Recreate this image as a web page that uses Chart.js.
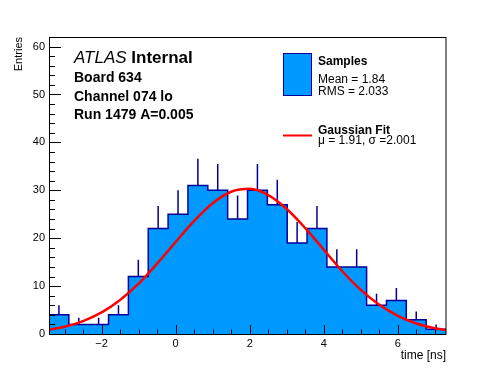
<!DOCTYPE html>
<html>
<head>
<meta charset="utf-8">
<script src="https://cdn.jsdelivr.net/npm/chart.js@4.4.1/dist/chart.umd.min.js"></script>
<style>
  html, body { margin: 0; padding: 0; background: #fff; }
  canvas { display: block; }
</style>
</head>
<body>
<canvas id="chart" width="496" height="372"></canvas>
<script>
// histogram bins (time in ns), 20 bins
const binEdges = [-3.42, -2.884, -2.348, -1.812, -1.276, -0.74, -0.204, 0.332, 0.868, 1.404, 1.94,
  2.476, 3.012, 3.548, 4.084, 4.62, 5.156, 5.692, 6.228, 6.764, 7.3];
const binCounts = [4, 2, 2, 4, 12, 22, 25, 31, 30, 24, 30, 27, 19, 22, 14, 14, 6, 7, 3, 1];
const binErrors = [2, 1.4, 1.4, 2, 3.5, 4.7, 5, 5.6, 5.5, 4.9, 5.5, 5.2, 4.4, 4.7, 3.7, 3.7, 2.4, 2.6, 1.7, 1];

// gaussian fit curve
const curveX = [-3.42, -3, -2.5, -2, -1.5, -1, -0.5, 0, 0.5, 1, 1.5, 2, 2.5, 3, 3.5, 4, 4.5, 5, 5.5, 6, 6.5, 7, 7.3];
const curveY = [0.9, 1.5, 2.7, 4.5, 7.1, 10.5, 14.7, 19.2, 23.6, 27.3, 29.7, 30.3, 29.0, 26.1, 22.1, 17.6, 13.1, 9.2, 6.1, 3.8, 2.2, 1.2, 0.8];

const yTicks = [0, 10, 20, 30, 40, 50, 60];
const xTicks = [-2, 0, 2, 4, 6];

const histColor = '#0099ff';
const lineColor = '#000099';
const fontFamily = '"Liberation Sans", Arial, Helvetica, sans-serif';

// step outline: left edge of every bin, then the last right edge
const histPoints = binCounts.map((c, i) => ({ x: binEdges[i], y: c }));
histPoints.push({ x: binEdges[binEdges.length - 1], y: binCounts[binCounts.length - 1] });

// error bars only above the bin top (the fill hides the rest)
const errorPoints = [];
binCounts.forEach((c, i) => {
  const xc = (binEdges[i] + binEdges[i + 1]) / 2;
  errorPoints.push({ x: xc, y: c }, { x: xc, y: c + binErrors[i] }, { x: xc, y: null });
});

const curvePoints = curveX.map((x, i) => ({ x, y: curveY[i] }));

const rootFrame = {
  id: 'rootFrame',
  afterDatasetsDraw(chart) {
    const { ctx, chartArea: a, scales: { x, y } } = chart;
    ctx.save();
    ctx.strokeStyle = '#000';
    ctx.lineWidth = 1;
    ctx.beginPath();
    // y ticks, inward
    for (let v = 0; v <= 62; v += 2) {
      const py = Math.round(y.getPixelForValue(v)) + 0.5;
      const len = v % 10 === 0 ? 12 : 6;
      ctx.moveTo(a.left, py);
      ctx.lineTo(a.left + len, py);
    }
    // x ticks, inward
    for (let v = -3; v <= 7.3; v += 0.5) {
      const px = Math.round(x.getPixelForValue(v)) + 0.5;
      const len = v % 2 === 0 ? 9 : 4.5;
      ctx.moveTo(px, a.bottom);
      ctx.lineTo(px, a.bottom - len);
    }
    ctx.stroke();
    ctx.strokeRect(a.left + 0.5, a.top + 0.5, a.right - a.left - 0.5, a.bottom - a.top);
    ctx.restore();
  },
  afterDraw(chart) {
    const ctx = chart.ctx;
    ctx.save();
    ctx.fillStyle = '#000';
    ctx.textBaseline = 'alphabetic';
    ctx.textAlign = 'left';

    ctx.font = 'italic 17px ' + fontFamily;
    ctx.fillText('ATLAS', 74, 63);
    const w = ctx.measureText('ATLAS ').width;
    ctx.font = 'bold 17px ' + fontFamily;
    ctx.fillText('Internal', 74 + w, 63);

    ctx.font = 'bold 14px ' + fontFamily;
    ctx.fillText('Board 634', 74, 82);
    ctx.fillText('Channel 074 lo', 74, 100.5);
    ctx.fillText('Run 1479 A=0.005', 74, 119);

    // legend
    ctx.fillStyle = histColor;
    ctx.fillRect(283.5, 53.5, 28, 42);
    ctx.strokeStyle = lineColor;
    ctx.lineWidth = 1;
    ctx.strokeRect(283.5, 53.5, 28, 42);

    ctx.strokeStyle = '#ff0000';
    ctx.lineWidth = 2;
    ctx.beginPath();
    ctx.moveTo(283, 135.5);
    ctx.lineTo(312, 135.5);
    ctx.stroke();

    ctx.fillStyle = '#000';
    ctx.font = 'bold 12px ' + fontFamily;
    ctx.fillText('Samples', 318, 65);
    ctx.fillText('Gaussian Fit', 318, 133.5);
    ctx.font = '12px ' + fontFamily;
    ctx.fillText('Mean = 1.84', 318, 82.5);
    ctx.fillText('RMS = 2.033', 318, 95);
    ctx.fillText('\u03bc = 1.91, \u03c3 =2.001', 318, 144);
    ctx.restore();
  }
};

new Chart(document.getElementById('chart'), {
  type: 'line',
  data: {
    datasets: [
      {
        label: 'Gaussian Fit',
        data: curvePoints,
        borderColor: '#ff0000',
        borderWidth: 2.5,
        pointRadius: 0,
        tension: 0.4,
        cubicInterpolationMode: 'monotone',
        fill: false,
        order: 0,
      },
      {
        label: 'errors',
        data: errorPoints,
        borderColor: lineColor,
        borderWidth: 1.5,
        pointRadius: 0,
        spanGaps: false,
        fill: false,
        order: 1,
      },
      {
        label: 'Samples',
        data: histPoints,
        stepped: 'before',
        borderColor: lineColor,
        borderWidth: 1.5,
        backgroundColor: histColor,
        pointRadius: 0,
        fill: 'origin',
        order: 2,
      },
    ],
  },
  options: {
    responsive: false,
    devicePixelRatio: 1,
    animation: false,
    layout: { padding: { top: 37, right: 50, left: 0, bottom: 0 } },
    plugins: {
      legend: { display: false },
      tooltip: { enabled: false },
    },
    scales: {
      x: {
        type: 'linear',
        min: -3.42,
        max: 7.3,
        grid: { display: false, drawTicks: false },
        border: { display: false },
        ticks: {
          stepSize: 2,
          includeBounds: false,
          padding: 3,
          color: '#000',
          maxRotation: 0,
          font: { family: fontFamily, size: 11 },
          callback: (v) => (xTicks.includes(v) ? String(v).replace('-', '\u2212') : ''),
        },
        title: {
          display: true,
          text: 'time [ns]',
          align: 'end',
          color: '#000',
          font: { family: fontFamily, size: 12 },
          padding: { top: 0, bottom: 9 },
        },
        afterFit: (s) => { s.height = 38; },
      },
      y: {
        min: 0,
        max: 62,
        grid: { display: false, drawTicks: false },
        border: { display: false },
        ticks: {
          stepSize: 10,
          includeBounds: false,
          padding: 4,
          color: '#000',
          font: { family: fontFamily, size: 11 },
          callback: (v) => (yTicks.includes(v) ? String(v) : ''),
        },
        title: {
          display: true,
          text: 'Entries',
          align: 'end',
          color: '#000',
          font: { family: fontFamily, size: 11 },
          padding: { top: 12, bottom: 0 },
        },
        afterFit: (s) => { s.width = 49; },
      },
    },
  },
  plugins: [rootFrame],
});
</script>
</body>
</html>
